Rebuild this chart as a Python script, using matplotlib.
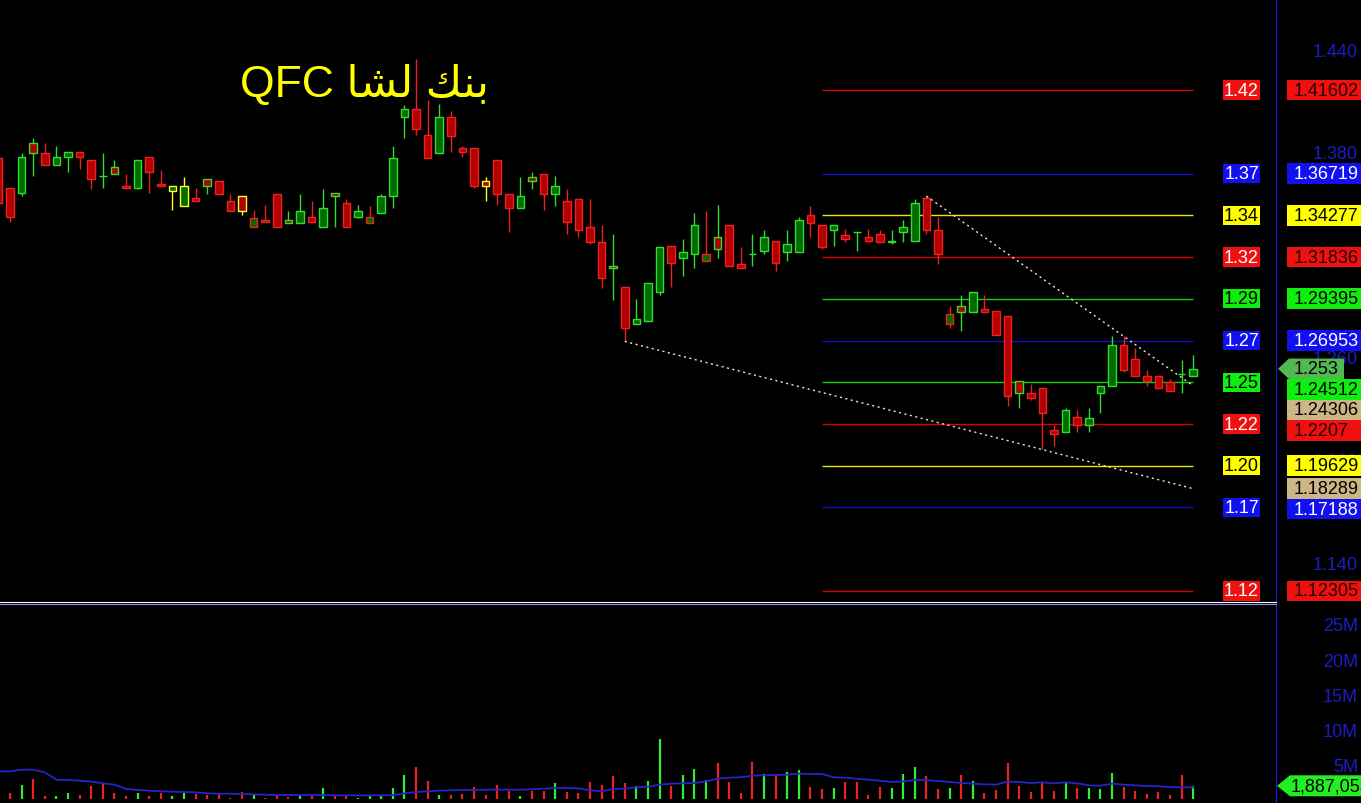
import matplotlib.pyplot as plt
from matplotlib.patches import Rectangle, Polygon
from matplotlib.transforms import blended_transform_factory
import numpy as np

plt.rcParams['font.family'] = ['Liberation Sans', 'DejaVu Sans']

# daily candles, oldest first
opens = [1.376, 1.359, 1.356, 1.385, 1.379, 1.372, 1.377, 1.380, 1.375, 1.366,
         1.371, 1.360, 1.359, 1.377, 1.361, 1.357, 1.348, 1.353, 1.364, 1.363,
         1.351, 1.354, 1.336, 1.340, 1.355, 1.340, 1.338, 1.342, 1.336, 1.356,
         1.350, 1.342, 1.338, 1.344, 1.354, 1.400, 1.405, 1.390, 1.379, 1.400,
         1.382, 1.382, 1.363, 1.375, 1.355, 1.347, 1.365, 1.367, 1.355, 1.351,
         1.352, 1.336, 1.327, 1.313, 1.301, 1.279, 1.281, 1.298, 1.325, 1.318,
         1.320, 1.316, 1.330, 1.337, 1.314, 1.320, 1.322, 1.328, 1.321, 1.321,
         1.343, 1.337, 1.334, 1.331, 1.333, 1.330, 1.332, 1.327, 1.333, 1.328,
         1.353, 1.334, 1.279, 1.290, 1.286, 1.288, 1.287, 1.284, 1.246, 1.239,
         1.242, 1.217, 1.216, 1.225, 1.220, 1.239, 1.243, 1.267, 1.259, 1.249,
         1.249, 1.245, 1.250, 1.249]
highs = [1.378, 1.359, 1.379, 1.388, 1.385, 1.383, 1.380, 1.380, 1.375, 1.379,
         1.375, 1.367, 1.375, 1.377, 1.369, 1.360, 1.365, 1.359, 1.364, 1.363,
         1.355, 1.354, 1.346, 1.349, 1.355, 1.345, 1.355, 1.351, 1.358, 1.356,
         1.352, 1.349, 1.348, 1.355, 1.383, 1.407, 1.434, 1.410, 1.408, 1.404,
         1.383, 1.382, 1.365, 1.375, 1.355, 1.365, 1.368, 1.367, 1.366, 1.358,
         1.352, 1.352, 1.337, 1.332, 1.301, 1.294, 1.303, 1.324, 1.325, 1.329,
         1.344, 1.345, 1.349, 1.337, 1.324, 1.332, 1.334, 1.328, 1.334, 1.342,
         1.348, 1.337, 1.337, 1.335, 1.333, 1.335, 1.334, 1.334, 1.340, 1.352,
         1.354, 1.342, 1.290, 1.296, 1.298, 1.296, 1.287, 1.284, 1.246, 1.244,
         1.242, 1.220, 1.230, 1.229, 1.230, 1.243, 1.272, 1.272, 1.265, 1.252,
         1.249, 1.247, 1.258, 1.261]
lows = [1.347, 1.339, 1.354, 1.366, 1.372, 1.372, 1.368, 1.370, 1.358, 1.359,
        1.367, 1.359, 1.358, 1.356, 1.360, 1.346, 1.348, 1.351, 1.355, 1.355,
        1.345, 1.343, 1.336, 1.339, 1.336, 1.338, 1.338, 1.339, 1.336, 1.336,
        1.336, 1.341, 1.338, 1.344, 1.347, 1.388, 1.390, 1.376, 1.379, 1.380,
        1.377, 1.359, 1.351, 1.349, 1.333, 1.347, 1.358, 1.346, 1.348, 1.332,
        1.330, 1.326, 1.300, 1.293, 1.269, 1.279, 1.281, 1.296, 1.301, 1.307,
        1.312, 1.316, 1.318, 1.313, 1.312, 1.313, 1.320, 1.310, 1.316, 1.321,
        1.330, 1.323, 1.325, 1.327, 1.322, 1.327, 1.327, 1.326, 1.327, 1.328,
        1.332, 1.314, 1.277, 1.275, 1.286, 1.286, 1.273, 1.231, 1.230, 1.235,
        1.206, 1.208, 1.216, 1.216, 1.216, 1.227, 1.243, 1.251, 1.249, 1.243,
        1.242, 1.240, 1.239, 1.249]
closes = [1.350, 1.342, 1.377, 1.379, 1.372, 1.377, 1.380, 1.377, 1.364, 1.366,
          1.367, 1.359, 1.375, 1.368, 1.360, 1.360, 1.360, 1.351, 1.360, 1.355,
          1.345, 1.345, 1.341, 1.339, 1.336, 1.338, 1.345, 1.339, 1.347, 1.354,
          1.336, 1.345, 1.342, 1.354, 1.376, 1.405, 1.393, 1.376, 1.400, 1.389,
          1.380, 1.360, 1.360, 1.355, 1.347, 1.354, 1.363, 1.355, 1.360, 1.339,
          1.334, 1.327, 1.306, 1.312, 1.277, 1.282, 1.303, 1.324, 1.315, 1.321,
          1.337, 1.320, 1.323, 1.313, 1.312, 1.320, 1.330, 1.315, 1.326, 1.340,
          1.338, 1.324, 1.337, 1.329, 1.333, 1.328, 1.327, 1.328, 1.336, 1.350,
          1.334, 1.320, 1.285, 1.286, 1.298, 1.286, 1.273, 1.237, 1.239, 1.236,
          1.227, 1.215, 1.229, 1.220, 1.224, 1.243, 1.267, 1.252, 1.249, 1.246,
          1.242, 1.240, 1.250, 1.253]

# volume in millions of shares
volume = [2.0, 0.86, 2.0, 2.86, 0.43, 0.43, 0.86, 0.57, 1.86, 2.29,
          0.86, 0.43, 0.86, 0.43, 0.86, 0.43, 0.86, 0.71, 0.57, 0.71,
          0.14, 1.0, 0.71, 0.14, 0.57, 0.29, 0.57, 0.43, 1.57, 0.57,
          0.57, 0.14, 0.43, 0.43, 1.57, 3.43, 4.57, 2.57, 0.57, 0.57,
          0.71, 1.71, 0.57, 2.0, 1.14, 0.43, 1.14, 1.14, 2.29, 1.0,
          0.86, 2.43, 2.0, 3.29, 2.29, 1.86, 2.57, 8.57, 1.86, 3.43,
          4.29, 2.71, 5.14, 2.43, 0.86, 5.29, 3.57, 3.57, 3.86, 4.14,
          1.71, 1.43, 1.57, 2.43, 2.43, 0.57, 1.71, 1.57, 3.57, 4.57,
          3.29, 1.43, 1.57, 3.43, 2.57, 0.86, 1.29, 5.14, 1.86, 1.0,
          2.29, 1.14, 2.29, 1.57, 1.57, 1.43, 3.71, 1.71, 1.14, 0.71,
          1.0, 0.57, 3.43, 1.887053]
volume_ma = [3.95, 3.95, 4.19, 4.19, 3.81, 2.76, 2.71, 2.62, 2.48, 2.24,
             2.05, 1.43, 1.29, 1.19, 1.10, 1.05, 1.00, 0.95, 0.81, 0.76,
             0.76, 0.71, 0.67, 0.62, 0.57, 0.57, 0.57, 0.57, 0.57, 0.52,
             0.52, 0.52, 0.52, 0.52, 0.57, 0.80, 1.00, 1.10, 1.19, 1.24,
             1.29, 1.29, 1.33, 1.33, 1.33, 1.33, 1.38, 1.48, 1.57, 1.57,
             1.52, 1.24, 1.10, 1.43, 1.48, 1.67, 1.76, 2.05, 2.19, 2.24,
             2.29, 2.52, 2.90, 3.05, 3.10, 3.33, 3.38, 3.43, 3.48, 3.62,
             3.57, 3.57, 3.10, 3.05, 2.90, 2.76, 2.62, 2.43, 2.52, 2.71,
             2.71, 2.57, 2.43, 2.29, 2.19, 2.10, 2.05, 2.48, 2.43, 2.29,
             2.38, 2.24, 2.38, 2.24, 1.95, 1.90, 2.19, 2.05, 1.95, 1.86,
             1.81, 1.71, 1.67, 1.67]

# fibonacci style levels drawn over the last bars
levels = [1.41602, 1.36719, 1.34277, 1.31836, 1.29395, 1.26953,
          1.24512, 1.22070, 1.19629, 1.17188, 1.12305]
level_kind = ['r', 'b', 'y', 'r', 'g', 'b', 'g', 'r', 'y', 'b', 'r']
level_start = 71

# trend lines: (start bar, end bar, end value)
trend_upper = (80, 103, 1.24306)
trend_lower = (54, 103, 1.18289)

# 1.320 sits fully under the 1.31836 tag, so it is left out
price_ticks = [1.14, 1.20, 1.26, 1.38, 1.44]
vol_ticks = [5, 10, 15, 20, 25]
# visual order with presentation forms (no shaping in matplotlib)
title = "QFC " + "\ufe8e\ufeb8\ufedf" + " " + "\ufeda\ufee8\ufe91"

line_col = {'r': '#d80000', 'b': '#1010d0', 'y': '#e8e800', 'g': '#10d010'}
box_col = {'r': '#f01010', 'b': '#1010f0', 'y': '#ffff00', 'g': '#10ee10'}
left_txt = {'r': 'white', 'b': 'white', 'y': 'black', 'g': 'black'}
right_txt = {'r': '#250000', 'b': 'white', 'y': 'black', 'g': 'black'}
TAN = '#ccb688'
AXBLUE = '#1c1cc4'

W, H = 1361, 804
fig = plt.figure(figsize=(W / 100, H / 100), dpi=100, facecolor='black')
ax = fig.add_axes([0, 1 - 603 / H, 1276 / W, 603 / H])
axv = fig.add_axes([0, 0, 1276 / W, 199 / H])

for a in (ax, axv):
    a.set_facecolor('black')
    for s in a.spines.values():
        s.set_visible(False)
    a.spines['right'].set_visible(True)
    a.spines['right'].set_color('#1a1ad8')
    a.set_xlim(0.138, 110.14)
    a.set_xticks([])
    a.yaxis.tick_right()
    a.tick_params(axis='y', length=0, pad=59, labelcolor=AXBLUE, labelsize=13)
ax.spines['bottom'].set_visible(True)
ax.spines['bottom'].set_color('white')
axv.spines['top'].set_visible(True)
axv.spines['top'].set_color('#9090ff')

ax.set_ylim(1.11661, 1.46924)
axv.set_ylim(-0.571, 27.857)
ax.set_yticks(price_ticks, labels=['%.3f' % t for t in price_ticks], ha='right')
axv.set_yticks(vol_ticks, labels=['%dM' % t for t in vol_ticks], ha='right')

# candles
o, h, l, c = (np.array(v) for v in (opens, highs, lows, closes))
x = np.arange(len(c))
prev = np.r_[o[0], c[:-1]]
fill = np.where(c > o, '#006c00', '#b00000')
edge = np.where(c > prev, '#30dd30', np.where(c < prev, '#ee2020', '#ffff30'))
ax.vlines(x, l, h, colors=edge, lw=1, zorder=2)
ax.bar(x, np.abs(c - o), bottom=np.minimum(o, c), width=0.66, color=fill,
       edgecolor=edge, linewidth=1, zorder=3)

# volume
vcol = np.where(c > o, '#30ee30', '#ee2020')
axv.vlines(x, 0, volume, colors=vcol, lw=1.6)
axv.plot(x, volume_ma, color='#2424c8', lw=1.3)

# levels
ax.hlines(levels, level_start, x[-1], colors=[line_col[k] for k in level_kind], lw=1, zorder=1)

# trend lines
for i0, i1, v1 in (trend_upper, trend_lower):
    v0 = highs[i0] if i0 == trend_upper[0] else lows[i0]
    ax.plot([i0, i1], [v0, v1], color='#e8e8cc', lw=1, ls=(0, (1.5, 2.5)), zorder=4)

tr = blended_transform_factory(ax.transAxes, ax.transData)
for lv, k in zip(levels, level_kind):
    ax.text(1241.5 / 1276, lv, '%.2f' % lv, transform=tr, ha='center', va='center',
            fontsize=13, color=left_txt[k], zorder=6,
            bbox=dict(boxstyle='square,pad=0.06', fc=box_col[k], ec='none'))

# right-hand value boxes, stacked so they don't overlap
tags = [(lv, ('%.5f' % lv).rstrip('0'), box_col[k], right_txt[k], False)
        for lv, k in zip(levels, level_kind)]
tags.append((closes[-1], '%.3f' % closes[-1], '#52b852', 'black', True))
tags.append((trend_upper[2], '%.5f' % trend_upper[2], TAN, 'black', False))
tags.append((trend_lower[2], '%.5f' % trend_lower[2], TAN, 'black', False))
tags.sort(key=lambda t: -t[0])

bh = 20.5 / 1710
pos = None
for val, txt, bc, tc, arrow in tags:
    pos = val if pos is None else min(val, pos - bh)
    if arrow:
        pts = [(1278 / 1276, pos), (1289 / 1276, pos + bh / 2), (1344 / 1276, pos + bh / 2),
               (1344 / 1276, pos - bh / 2), (1289 / 1276, pos - bh / 2)]
        ax.add_patch(Polygon(pts, closed=True, fc=bc, ec='none', transform=tr,
                             clip_on=False, zorder=6))
    else:
        ax.add_patch(Rectangle((1287 / 1276, pos - bh / 2), 0.07, bh, fc=bc, ec='none',
                               transform=tr, clip_on=False, zorder=6))
    ax.text(1294 / 1276, pos, txt, transform=tr, ha='left', va='center', fontsize=13,
            color=tc, zorder=7, clip_on=False)

# last volume tag (runs off the right edge, as on the terminal)
trv = blended_transform_factory(axv.transAxes, axv.transData)
vh = 21 / 7
vv = volume[-1]
pts = [(1277 / 1276, vv), (1290 / 1276, vv + vh / 2), (1.1, vv + vh / 2),
       (1.1, vv - vh / 2), (1290 / 1276, vv - vh / 2)]
axv.add_patch(Polygon(pts, closed=True, fc='#22ee22', ec='none', transform=trv,
                      clip_on=False, zorder=6))
axv.text(1291 / 1276, vv, '{:,}'.format(int(round(vv * 1e6))), transform=trv,
         ha='left', va='center', fontsize=13, color='black', zorder=7)

fig.text(240 / W, 1 - 97 / H, title, color='#ffff00', fontsize=32, ha='left', va='baseline')

fig.savefig('out.png', dpi=100, facecolor='black')
